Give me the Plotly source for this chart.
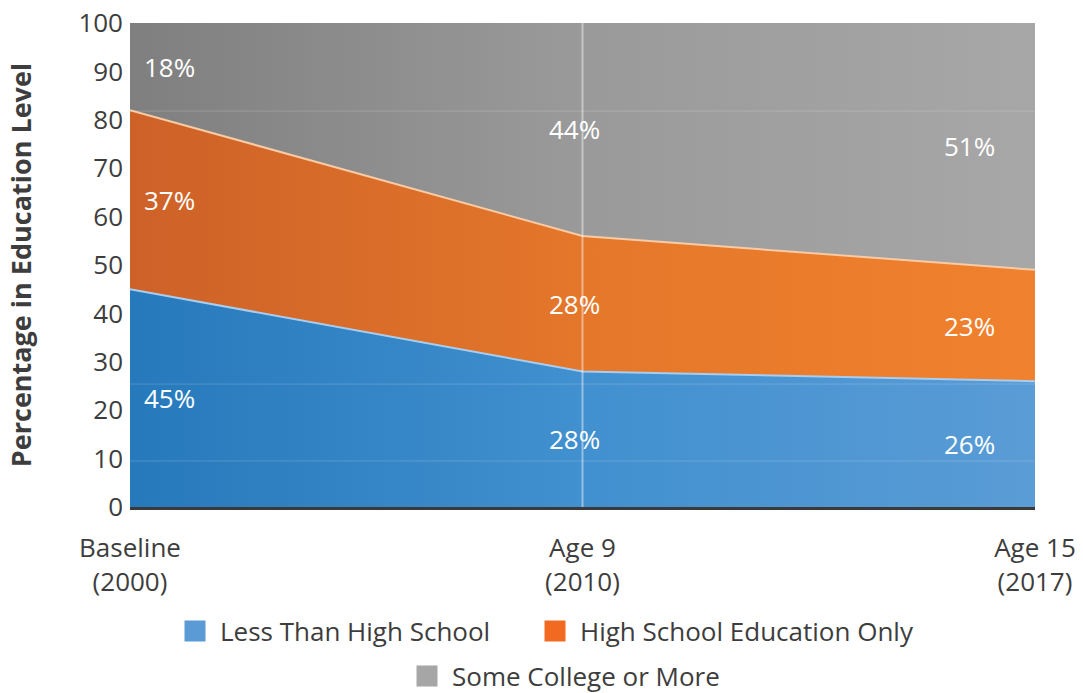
import plotly.graph_objects as go

# ---- data ----
categories = ["Baseline<br>(2000)", "Age 9<br>(2010)", "Age 15<br>(2017)"]
less_than_hs = [45, 28, 26]
hs_only = [37, 28, 23]
some_college = [18, 44, 51]
series_names = ["Less Than High School", "High School Education Only", "Some College or More"]
y_ticks = [0, 10, 20, 30, 40, 50, 60, 70, 80, 90, 100]

x = list(range(len(categories)))
top_blue = less_than_hs
top_orange = [a + b for a, b in zip(less_than_hs, hs_only)]
top_gray = [a + b + c for a, b, c in zip(less_than_hs, hs_only, some_college)]

FONT = "Open Sans"
TXT = "#3d3d3d"

fig = go.Figure()

fig.add_trace(go.Scatter(
    x=x, y=top_blue, mode="lines", fill="tozeroy",
    line=dict(color="#a9cdee", width=2),
    fillgradient=dict(type="horizontal", colorscale=[[0, "#2679bb"], [0.5, "#4190cf"], [1, "#5a9cd6"]]),
    showlegend=False, hoverinfo="skip"))
fig.add_trace(go.Scatter(
    x=x, y=top_orange, mode="lines", fill="tonexty",
    line=dict(color="#f8cba4", width=2),
    fillgradient=dict(type="horizontal", colorscale=[[0, "#cd6128"], [0.5, "#e4772a"], [1, "#f0812e"]]),
    showlegend=False, hoverinfo="skip"))
fig.add_trace(go.Scatter(
    x=x, y=top_gray, mode="lines", fill="tonexty",
    line=dict(color="rgba(0,0,0,0)", width=0),
    fillgradient=dict(type="horizontal", colorscale=[[0, "#7f7f7f"], [0.5, "#9a9a9a"], [1, "#a7a7a7"]]),
    showlegend=False, hoverinfo="skip"))

legend_colors = ["#5b9bd5", "#f26a21", "#a6a6a6"]
legend_ids = ["legend", "legend3", "legend2"]
for name, col, lg in zip(series_names, legend_colors, legend_ids):
    fig.add_trace(go.Scatter(
        x=[None], y=[None], mode="markers", name=name, legend=lg,
        marker=dict(symbol="square", size=22, color=col, line=dict(color=col, width=5)),
        hoverinfo="skip"))

# ---- value labels ----
bottoms = [[0] * 3, top_blue, top_orange]
values = [less_than_hs, hs_only, some_college]
for vals, bots in zip(values, bottoms):
    for i, (v, b) in enumerate(zip(vals, bots)):
        if i == 0:
            xa, xs = "left", 12
        elif i == len(x) - 1:
            xa, xs = "right", -38
        else:
            xa, xs = "center", -8
        fig.add_annotation(x=x[i], y=b + v / 2, text=f"{v}%", showarrow=False,
                           xanchor=xa, xshift=xs, yanchor="middle",
                           font=dict(family=FONT, size=26, color="white"))

# vertical divider at Age 9
fig.add_shape(type="line", xref="x", yref="paper", x0=x[1], x1=x[1], y0=0, y1=1,
              line=dict(color="rgba(255,255,255,0.45)", width=2), layer="above")
# faint horizontal lines
for gy in [9.5, 25.4, 81.8]:
    fig.add_shape(type="line", xref="paper", yref="y", x0=0, x1=1, y0=gy, y1=gy,
                  line=dict(color="rgba(255,255,255,0.18)", width=1), layer="above")

leg_common = dict(orientation="h", xanchor="left", yref="container", yanchor="middle",
                  font=dict(family=FONT, size=26, color=TXT), itemwidth=40,
                  itemsizing="trace", bgcolor="rgba(0,0,0,0)")

fig.update_layout(
    width=1083, height=693,
    margin=dict(l=130, r=48, t=23, b=186, autoexpand=False),
    paper_bgcolor="white", plot_bgcolor="white",
    font=dict(family=FONT, color=TXT),
    xaxis=dict(range=[0, 2], tickvals=x, ticktext=categories, showgrid=False, zeroline=False,
               showline=True, linecolor="#3a3a3a", linewidth=3, ticks="",
               tickfont=dict(family=FONT, size=26, color=TXT), ticklabelstandoff=16,
               fixedrange=True),
    yaxis=dict(range=[0, 100], tickvals=y_ticks, showgrid=False, zeroline=False,
               showline=False, ticks="", tickfont=dict(family=FONT, size=26, color=TXT),
               ticklabelstandoff=6,
               title=dict(text="<b>Percentage in Education Level</b>",
                          font=dict(family=FONT, size=27, color=TXT), standoff=38),
               fixedrange=True),
    legend=dict(x=(170 - 130) / 905, y=0.0895, **leg_common),
    legend3=dict(x=(530 - 130) / 905, y=0.0895, **leg_common),
    legend2=dict(x=(402 - 130) / 905, y=0.0245, **leg_common),
    showlegend=True,
)

fig.write_html("out.html")
